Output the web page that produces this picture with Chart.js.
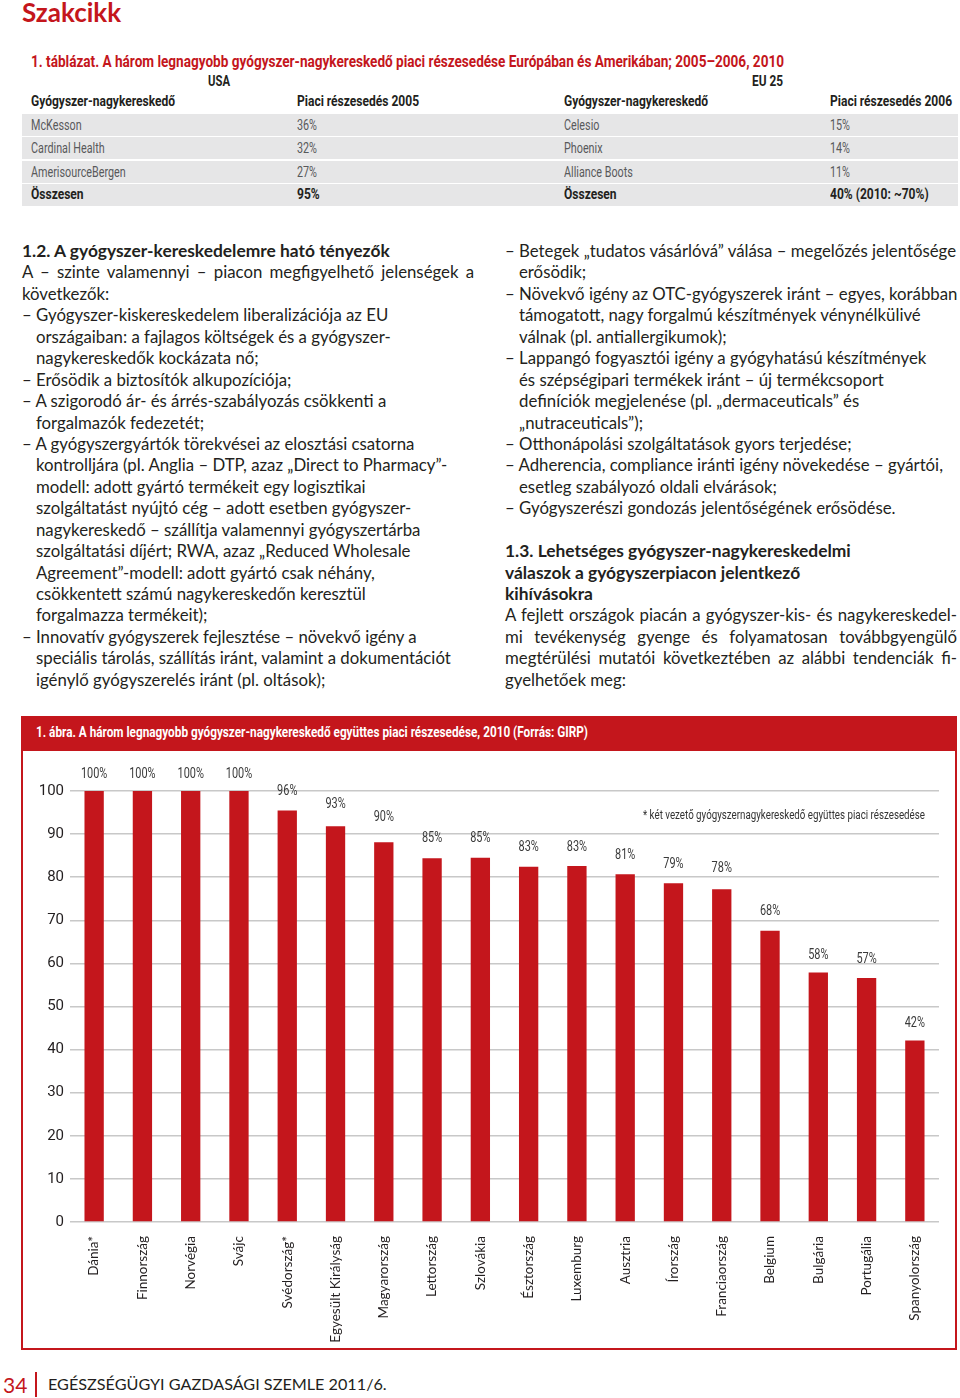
<!DOCTYPE html>
<html lang="hu">
<head>
<meta charset="utf-8">
<title>Szakcikk</title>
<script src="https://cdn.jsdelivr.net/npm/chart.js@4.4.1/dist/chart.umd.min.js"></script>
<style>
  html, body { margin: 0; padding: 0; background: #fff; }
  body { width: 960px; height: 1398px; position: relative; overflow: hidden;
         font-family: Lato, "Noto Sans", sans-serif; color: #231f20; }
  .abs { position: absolute; white-space: nowrap; }
  .cond { font-family: Roboto, "Liberation Sans", sans-serif; transform-origin: 0 50%; }
  .red { color: #c4161c; }
  .row { position: absolute; left: 22px; width: 936px; height: 22px; background: #e6e6e7; }
  .cell { position: absolute; top: 0; line-height: 22px; font-size: 14px; color: #58595b;
          white-space: nowrap; transform: scaleX(0.77); }
  .cell.b { font-weight: 700; font-size: 14.5px; color: #231f20; transform: scaleX(0.83); }
  .col { position: absolute; top: 240px; width: 452px; font-size: 16.8px; line-height: 21.45px; }
  .col div { height: 21.45px; white-space: nowrap; }
  .col .h { font-weight: 700; font-size: 17.4px; }
  .col .j { text-align: justify; text-align-last: justify; }
  .col .c { padding-left: 14px; }
</style>
</head>
<body>

<div class="abs red" style="left:22px; top:-4px; font-size:26px; font-weight:700;">Szakcikk</div>

<div class="abs cond red" data-w="753" style="left:31px; top:52px; font-size:16px; font-weight:700;">1. táblázat. A három legnagyobb gyógyszer-nagykereskedő piaci részesedése Európában és Amerikában; 2005–2006, 2010</div>
<div class="abs cond" data-w="22" style="left:208px; top:73px; font-size:14.5px; font-weight:700;">USA</div>
<div class="abs cond" data-w="31" style="left:752px; top:73px; font-size:14.5px; font-weight:700;">EU 25</div>
<div id="table"></div>

<div id="leftCol" class="col" style="left:22px;"></div>
<div id="rightCol" class="col" style="left:505px;"></div>

<!-- chart box -->
<div class="abs" style="left:22px; top:716px; width:935px; height:35px; background:#c4161c;"></div>
<div class="abs cond" data-w="552" style="left:36px; top:723px; font-size:15px; font-weight:700; color:#fff;">1. ábra. A három legnagyobb gyógyszer-nagykereskedő együttes piaci részesedése, 2010 (Forrás: GIRP)</div>
<div class="abs" style="left:21px; top:716px; width:932px; height:632px; border:2px solid #c4161c; border-top:none;"></div>
<div class="abs" style="left:24px; top:752px; width:931px; height:598px;">
  <canvas id="myChart"></canvas>
</div>
<div class="abs cond" data-w="282" style="left:643px; top:806px; font-size:13.5px; color:#333;">* két vezető gyógyszernagykereskedő együttes piaci részesedése</div>

<!-- footer -->
<div class="abs red" style="left:3px; top:1372px; font-size:21px;">34</div>
<div class="abs" style="left:35px; top:1372px; width:1.5px; height:25px; background:#c4161c;"></div>
<div class="abs" style="left:48px; top:1374px; font-size:16.2px; color:#231f20;">EGÉSZSÉGÜGYI GAZDASÁGI SZEMLE 2011/6.</div>

<script>
// table data
const usaWholesalers = ['McKesson', 'Cardinal Health', 'AmerisourceBergen', 'Összesen'];
const usaShare2005 = ['36%', '32%', '27%', '95%'];
const euWholesalers = ['Celesio', 'Phoenix', 'Alliance Boots', 'Összesen'];
const euShare2006 = ['15%', '14%', '11%', '40% (2010: ~70%)'];
const tableHeads = ['Gyógyszer-nagykereskedő', 'Piaci részesedés 2005', 'Gyógyszer-nagykereskedő', 'Piaci részesedés 2006'];

// chart data
const countries = ['Dánia*', 'Finnország', 'Norvégia', 'Svájc', 'Svédország*', 'Egyesült Királyság',
  'Magyarország', 'Lettország', 'Szlovákia', 'Észtország', 'Luxemburg', 'Ausztria', 'Írország',
  'Franciaország', 'Belgium', 'Bulgária', 'Portugália', 'Spanyolország'];
const barValues = [100, 100, 100, 100, 95.5, 91.8, 88.1, 84.4, 84.5, 82.4, 82.6, 80.7, 78.6, 77.2, 67.6, 57.9, 56.6, 42.1];
const labelValues = [100, 100, 100, 100, 96, 93, 90, 85, 85, 83, 83, 81, 79, 78, 68, 58, 57, 42];
const yMin = 0, yMax = 100, yStep = 10;

// text columns: h = heading, j = justified, p = plain, b = bullet, c = continuation
const leftLines = [
  ['h', '1.2. A gyógyszer-kereskedelemre ható tényezők'],
  ['j', 'A – szinte valamennyi – piacon megfigyelhető jelenségek a'],
  ['p', 'következők:'],
  ['b', '– Gyógyszer-kiskereskedelem liberalizációja az EU'],
  ['c', 'országaiban: a fajlagos költségek és a gyógyszer-'],
  ['c', 'nagykereskedők kockázata nő;'],
  ['b', '– Erősödik a biztosítók alkupozíciója;'],
  ['b', '– A szigorodó ár- és árrés-szabályozás csökkenti a'],
  ['c', 'forgalmazók fedezetét;'],
  ['b', '– A gyógyszergyártók törekvései az elosztási csatorna'],
  ['c', 'kontrolljára (pl. Anglia – DTP, azaz „Direct to Pharmacy”-'],
  ['c', 'modell: adott gyártó termékeit egy logisztikai'],
  ['c', 'szolgáltatást nyújtó cég – adott esetben gyógyszer-'],
  ['c', 'nagykereskedő – szállítja valamennyi gyógyszertárba'],
  ['c', 'szolgáltatási díjért; RWA, azaz „Reduced Wholesale'],
  ['c', 'Agreement”-modell: adott gyártó csak néhány,'],
  ['c', 'csökkentett számú nagykereskedőn keresztül'],
  ['c', 'forgalmazza termékeit);'],
  ['b', '– Innovatív gyógyszerek fejlesztése – növekvő igény a'],
  ['c', 'speciális tárolás, szállítás iránt, valamint a dokumentációt'],
  ['c', 'igénylő gyógyszerelés iránt (pl. oltások);']
];
const rightLines = [
  ['b', '– Betegek „tudatos vásárlóvá” válása – megelőzés jelentősége'],
  ['c', 'erősödik;'],
  ['b', '– Növekvő igény az OTC-gyógyszerek iránt – egyes, korábban'],
  ['c', 'támogatott, nagy forgalmú készítmények vénynélkülivé'],
  ['c', 'válnak (pl. antiallergikumok);'],
  ['b', '– Lappangó fogyasztói igény a gyógyhatású készítmények'],
  ['c', 'és szépségipari termékek iránt – új termékcsoport'],
  ['c', 'definíciók megjelenése (pl. „dermaceuticals” és'],
  ['c', '„nutraceuticals”);'],
  ['b', '– Otthonápolási szolgáltatások gyors terjedése;'],
  ['b', '– Adherencia, compliance iránti igény növekedése – gyártói,'],
  ['c', 'esetleg szabályozó oldali elvárások;'],
  ['b', '– Gyógyszerészi gondozás jelentőségének erősödése.'],
  ['p', ''],
  ['h', '1.3. Lehetséges gyógyszer-nagykereskedelmi'],
  ['h', 'válaszok a gyógyszerpiacon jelentkező'],
  ['h', 'kihívásokra'],
  ['j', 'A fejlett országok piacán a gyógyszer-kis- és nagykereskedel-'],
  ['j', 'mi tevékenység gyenge és folyamatosan továbbgyengülő'],
  ['j', 'megtérülési mutatói következtében az alábbi tendenciák fi-'],
  ['p', 'gyelhetőek meg:']
];

function fillColumn(id, lines) {
  const col = document.getElementById(id);
  lines.forEach(([type, text]) => {
    const d = document.createElement('div');
    d.className = type;
    d.textContent = text || '\u00a0';
    col.appendChild(d);
  });
}
fillColumn('leftCol', leftLines);
fillColumn('rightCol', rightLines);

// table
const table = document.getElementById('table');
const colX = [9, 275, 542, 808];
function addCells(parent, values, bold) {
  values.forEach((v, i) => {
    const s = document.createElement('div');
    s.className = bold ? 'cell cond b' : 'cell cond';
    s.style.left = colX[i] + 'px';
    s.textContent = v;
    parent.appendChild(s);
  });
}
const head = document.createElement('div');
head.className = 'row';
head.style.top = '91px';
head.style.background = 'transparent';
table.appendChild(head);
addCells(head, tableHeads, true);
usaWholesalers.forEach((name, i) => {
  const r = document.createElement('div');
  r.className = 'row';
  r.style.top = (114 + i * 23.3) + 'px';
  table.appendChild(r);
  addCells(r, [name, usaShare2005[i], euWholesalers[i], euShare2006[i]], i === usaWholesalers.length - 1);
});

// squeeze condensed captions to the printed width
document.querySelectorAll('[data-w]').forEach(el => {
  const w = el.getBoundingClientRect().width;
  el.style.transform = 'scaleX(' + (Number(el.dataset.w) / w) + ')';
});

// chart
const condFont = 'Roboto, "Liberation Sans", sans-serif';
const bodyFont = 'Lato, "Noto Sans", sans-serif';

const barLabels = {
  id: 'barLabels',
  afterDatasetsDraw(chart) {
    const ctx = chart.ctx;
    const yScale = chart.scales.y;
    const meta = chart.getDatasetMeta(0);
    ctx.save();
    ctx.font = '14px ' + condFont;
    ctx.fillStyle = '#3a3a3a';
    ctx.textAlign = 'center';
    ctx.textBaseline = 'middle';
    meta.data.forEach((bar, i) => {
      const y = yScale.getPixelForValue(labelValues[i]) - 17;
      ctx.save();
      ctx.translate(bar.x, y);
      ctx.scale(0.78, 1);
      ctx.fillText(labelValues[i] + '%', 0, 0);
      ctx.restore();
    });
    ctx.restore();
  }
};

const data = {
  labels: countries,
  datasets: [{
    label: 'Piaci részesedés',
    data: barValues,
    backgroundColor: '#c4161c',
    borderWidth: 0,
    barPercentage: 0.4,
    categoryPercentage: 1
  }]
};

const options = {
  responsive: true,
  maintainAspectRatio: false,
  animation: false,
  devicePixelRatio: 1,
  layout: { padding: { top: 39, right: 16, bottom: 0, left: 0 } },
  plugins: {
    legend: { display: false },
    tooltip: { enabled: false }
  },
  scales: {
    x: {
      grid: { display: false, drawTicks: false },
      border: { display: false },
      ticks: {
        minRotation: 90,
        maxRotation: 90,
        padding: 14,
        color: '#231f20',
        font: { family: bodyFont, size: 13.5 }
      },
      afterFit(scale) { scale.height = 128; }
    },
    y: {
      min: yMin,
      max: yMax,
      grid: { color: '#c8c8c8', lineWidth: 1.5, drawTicks: false },
      border: { display: false },
      ticks: {
        stepSize: yStep,
        padding: 6,
        color: '#231f20',
        font: { family: condFont, size: 15 }
      },
      afterFit(scale) { scale.width = 46; }
    }
  }
};

const config = {
  type: 'bar',
  data: data,
  options: options,
  plugins: [barLabels]
};

const myChart = new Chart(document.getElementById('myChart'), config);
</script>
</body>
</html>
